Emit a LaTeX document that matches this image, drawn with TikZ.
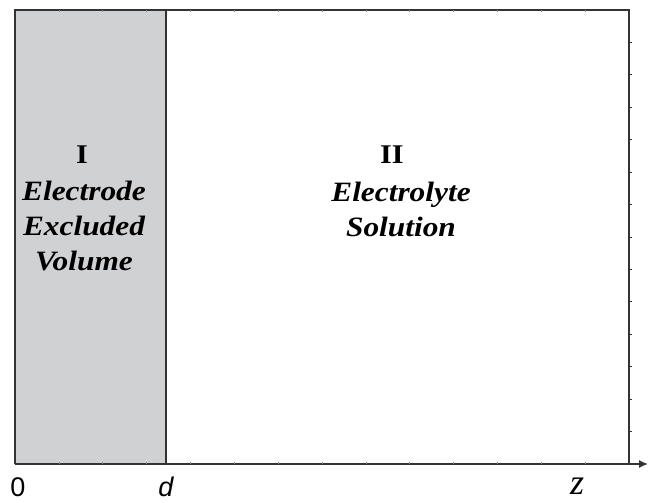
\documentclass[tikz,border=0pt]{standalone}
\usepackage{fontspec}
\setmainfont{Liberation Serif}
\setsansfont{Liberation Sans}
\newfontfamily\regfont[FakeStretch=1.12]{Liberation Serif}
\usetikzlibrary{arrows.meta}
\definecolor{exclgray}{RGB}{208,209,211}

\begin{document}
\begin{tikzpicture}[x=1pt,y=-1pt,
  frameline/.style={line width=1.4pt,draw=black!80},
  tickmark/.style={line width=0.5pt,draw=black!45},
  regionnum/.style={font=\regfont\bfseries\fontsize{27}{30}\selectfont},
  regiontext/.style={font=\regfont\bfseries\itshape\fontsize{28}{35}\selectfont,align=center},
  axislabel/.style={inner sep=0pt,anchor=base,font=\sffamily\fontsize{27}{27}\selectfont}]
\useasboundingbox (0,0) rectangle (648,503);
% region I: excluded volume
\fill[exclgray] (15,10) rectangle (166,464);
\coordinate (o) at (15,464);
\coordinate (d) at (166,464);
\coordinate (zend) at (648,464);
% box and axis
\draw[frameline] (o) -- (15,10) -- (629,10) -- (629,464);
\draw[frameline] (166,10) -- (d);
\draw[frameline] (o) -- (d);
\draw[frameline,-{Latex[length=9pt,width=8pt]}] (d) -- (zend);
% small ticks
\foreach \i in {1,...,13} {
  \draw[frameline,line width=0.8pt] (629,10+32.43*\i) -- +(3,0);
  \draw[tickmark] (15+43.86*\i,10) -- +(0,2);
  \draw[tickmark] (15+43.86*\i,464) -- +(0,-2);
}
% labels
\node[regionnum] (numI) at (82,155) {I};
\node[regiontext] (txtI) at (84,226) {Electrode\\Excluded\\Volume};
\node[regionnum] (numII) at (392,155) {II};
\node[regiontext] (txtII) at (401,209) {Electrolyte\\Solution};
\node[axislabel] (lblo) at (18,496) {0};
\node[axislabel,font=\sffamily\itshape\fontsize{27}{27}\selectfont] (lbld) at (166,496) {d};
\node[axislabel,font=\itshape\fontsize{36}{36}\selectfont] (lblz) at (577,494) {z};
\end{tikzpicture}
\end{document}
